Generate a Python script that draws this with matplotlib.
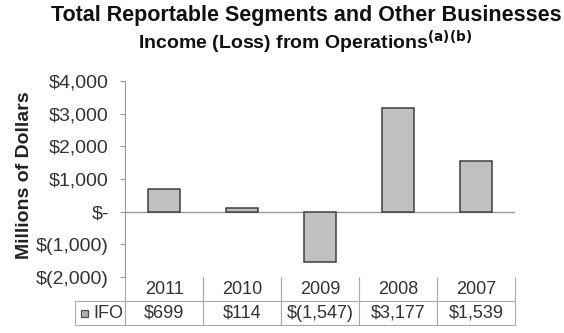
import matplotlib.pyplot as plt
from matplotlib.patches import Rectangle
from matplotlib.ticker import FuncFormatter

plt.rcParams['font.family'] = ['Liberation Sans', 'DejaVu Sans']

years = ["2011", "2010", "2009", "2008", "2007"]
ifo = [699, 114, -1547, 3177, 1539]
series_name = "IFO"
y_ticks = [-2000, -1000, 0, 1000, 2000, 3000, 4000]


def dollars(v, pos=None):
    if v == 0:
        return "$-"
    if v < 0:
        return f"$({abs(v):,.0f})"
    return f"${v:,.0f}"


fig = plt.figure(figsize=(5.64, 3.33), dpi=100)
fig.patch.set_facecolor("white")

# plot area (pixels: x 125..515, y 81..277)
ax = fig.add_axes([125 / 564, 1 - 277 / 333, 390 / 564, 196 / 333])
xs = range(len(years))
ax.bar(xs, ifo, width=0.41, color="#c0c0c0", edgecolor="#404040", linewidth=1.1, zorder=3)
ax.set_xlim(-0.5, len(years) - 0.5)
ax.set_ylim(y_ticks[0], y_ticks[-1])
ax.set_yticks(y_ticks)
ax.yaxis.set_major_formatter(FuncFormatter(dollars))
ax.tick_params(axis="y", labelsize=14, length=3.6, pad=8, color="#999999", labelcolor="#333333")
ax.set_xticks([])
ax.axhline(0, color="#999999", lw=1.0, zorder=2)
for side in ("top", "right", "bottom"):
    ax.spines[side].set_visible(False)
ax.spines["left"].set_color("#999999")

fig.text(25 / 564, 1 - 175 / 333, "Millions of Dollars", rotation=90,
         ha="center", va="center", fontsize=14, fontweight="bold", color="#222222")

# data table under the plot
cell_text = [[series_name] + [dollars(v) for v in ifo]]
col_labels = [""] + years
label_w = 50
total_w = label_w + 390
widths = [label_w / total_w] + [78 / total_w] * len(years)
tbl = ax.table(cellText=cell_text, colLabels=col_labels, colWidths=widths,
               cellLoc="center",
               bbox=[(75 - 125) / 390, -(325 - 277) / 196, total_w / 390, 48 / 196])
tbl.auto_set_font_size(False)
tbl.set_fontsize(13)
for (r, c), cell in tbl.get_celld().items():
    cell.set_edgecolor("#aaaaaa")
    cell.set_linewidth(0.8)
    cell.get_text().set_color("#333333")
    if r == 0:
        cell.visible_edges = "" if c == 0 else "LR"
tbl[1, 0].get_text().set_ha("right")
tbl[1, 0]._loc = "right"
tbl[1, 0].PAD = 0.04

# legend key next to the series name
ax.add_patch(Rectangle(((81 - 125) / 390, -(317 - 277) / 196), 7 / 390, 7 / 196,
                       transform=ax.transAxes, clip_on=False,
                       facecolor="#b0b0b0", edgecolor="#505050", linewidth=0.9))

fig.text(306 / 564, 1 - 15 / 333, "Total Reportable Segments and Other Businesses",
         ha="center", va="center", fontsize=15.5, fontweight="bold", color="#111111")
fig.text(305 / 564, 1 - 42 / 333, r"Income (Loss) from Operations$^{\mathbf{(a)(b)}}$",
         ha="center", va="center", fontsize=14, fontweight="bold", color="#111111")

fig.savefig("out.png", dpi=100)
